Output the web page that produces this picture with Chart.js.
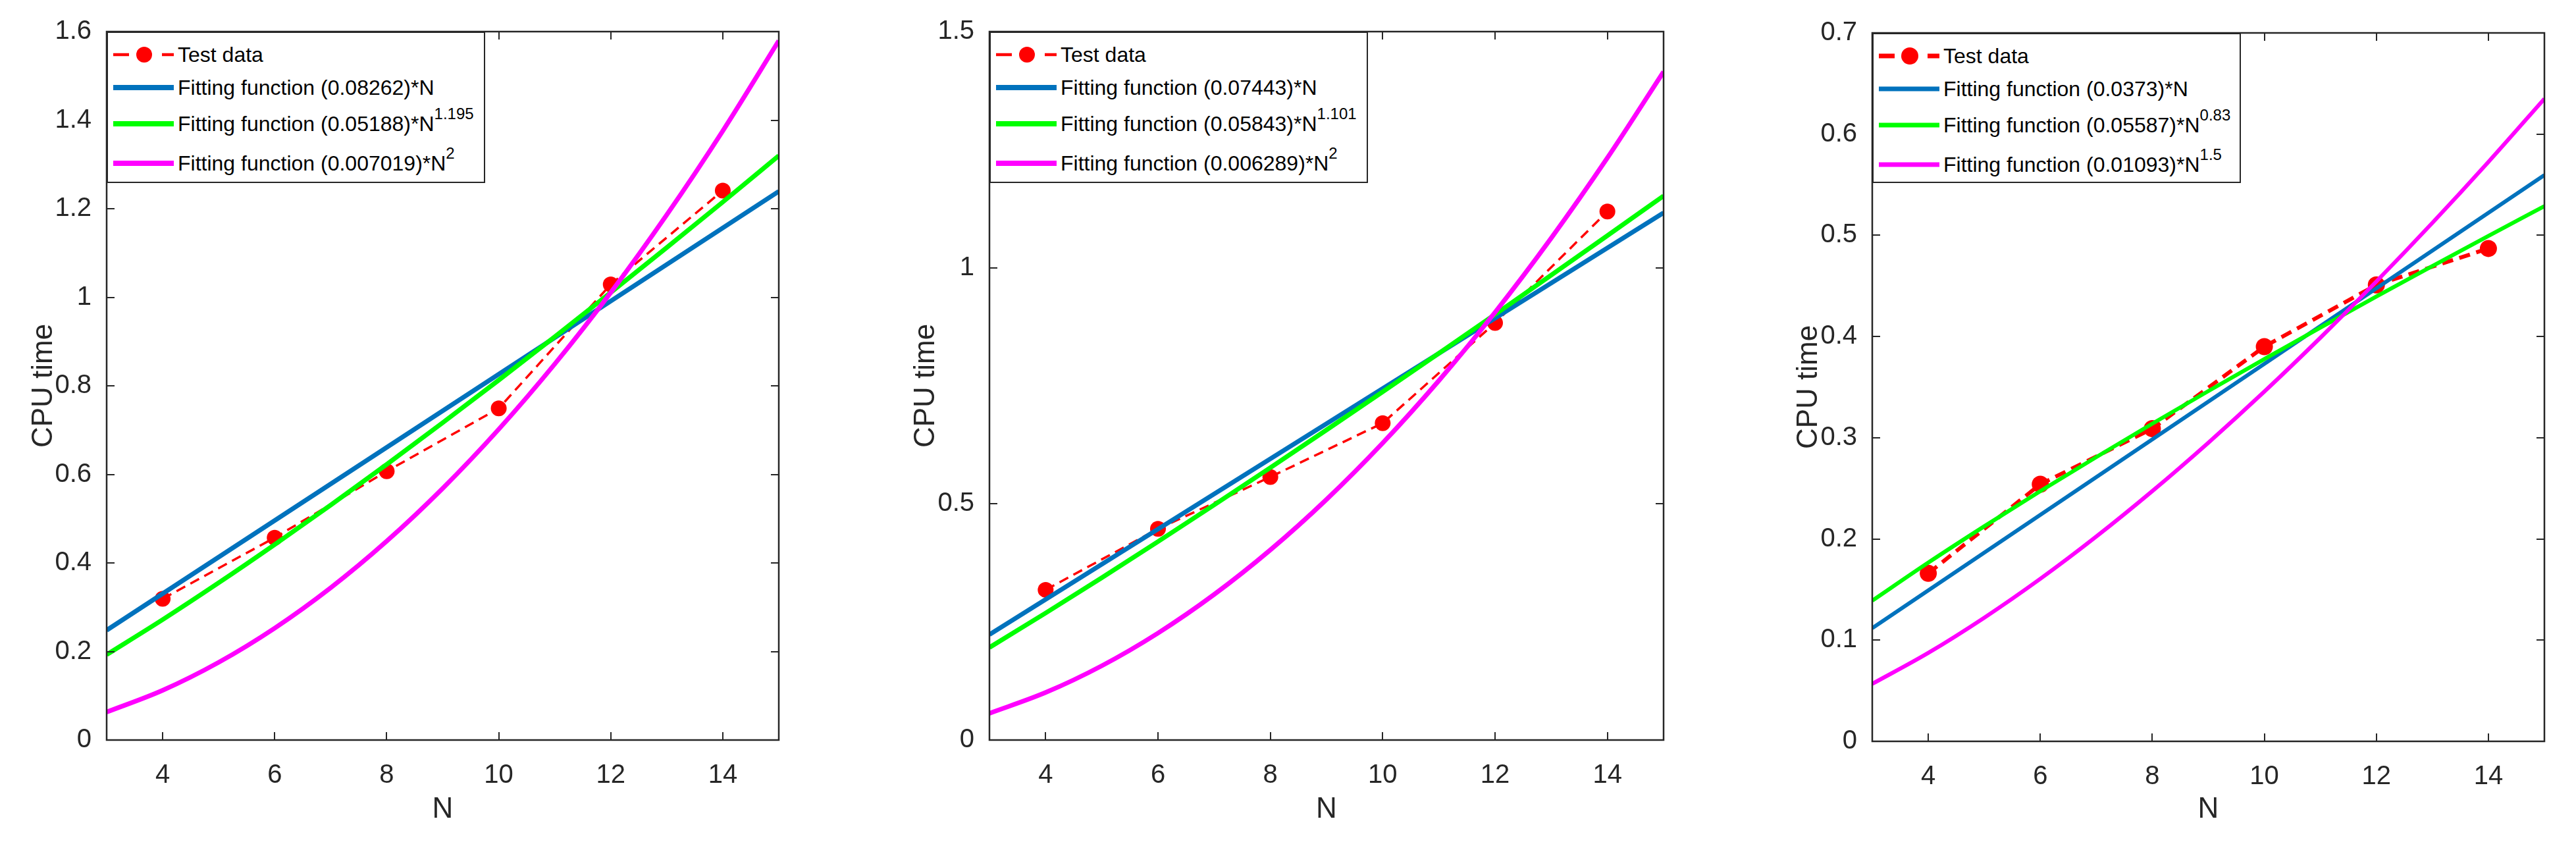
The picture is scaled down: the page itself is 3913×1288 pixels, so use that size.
<!DOCTYPE html>
<html>
<head>
<meta charset="utf-8">
<script src="https://cdn.jsdelivr.net/npm/chart.js@4.4.1/dist/chart.umd.min.js"></script>
<style>
  body { margin: 0; background: #fff; width: 3913px; height: 1288px; position: relative; overflow: hidden;
         font-family: 'Liberation Sans', Arial, sans-serif; }
  .panel { position: absolute; top: 0; height: 1288px; }
  .legend { position: absolute; background: #fff; border: 2px solid #262626; box-sizing: border-box;
            font-size: 32px; color: #000; padding-top: 8px; }
  .row { position: relative; }
  .row svg { position: absolute; left: 8px; top: 50%; transform: translateY(-50%); }
  .row span { position: absolute; left: 106px; top: 50%; transform: translateY(-50%); white-space: nowrap; line-height: 1; }
  .row sup { font-size: 24px; vertical-align: 18px; line-height: 0; }
</style>
</head>
<body>
<div class="panel" id="p1" style="left:0;width:1220px"><canvas id="c1"></canvas></div>
<div class="panel" id="p2" style="left:1300px;width:1260px"><canvas id="c2"></canvas></div>
<div class="panel" id="p3" style="left:2640px;width:1273px"><canvas id="c3"></canvas></div>

<script>
// shared x values
const testN = [4, 6, 8, 10, 12, 14];
const curveN = [3, 4, 5, 6, 7, 8, 9, 10, 11, 12, 13, 14, 15];
const lineN = [3, 15];
const xTicks = [4, 6, 8, 10, 12, 14];

// panel 1
const test1 = [0.319, 0.457, 0.607, 0.749, 1.029, 1.241];
const blue1 = [0.2479, 1.2393];
const green1 = [0.1928, 0.2719, 0.3551, 0.4415, 0.5308, 0.6226, 0.7167, 0.8128, 0.9109, 1.0107, 1.1122, 1.2151, 1.3197];
const magenta1 = [0.0632, 0.1123, 0.1755, 0.2527, 0.3439, 0.4492, 0.5685, 0.7019, 0.8493, 1.0107, 1.1862, 1.3757, 1.5793];
const yTicks1 = [0, 0.2, 0.4, 0.6, 0.8, 1, 1.2, 1.4, 1.6];
const labels1 = ['Test data', 'Fitting function (0.08262)*N', 'Fitting function (0.05188)*N', 'Fitting function (0.007019)*N'];
const sups1 = ['', '', '1.195', '2'];

// panel 2
const test2 = [0.318, 0.447, 0.557, 0.671, 0.883, 1.119];
const blue2 = [0.2233, 1.1165];
const green2 = [0.1959, 0.2689, 0.3437, 0.4201, 0.4979, 0.5767, 0.6566, 0.7373, 0.8189, 0.9012, 0.9843, 1.0679, 1.1522];
const magenta2 = [0.0566, 0.1006, 0.1572, 0.2264, 0.3082, 0.4025, 0.5094, 0.6289, 0.7610, 0.9056, 1.0628, 1.2326, 1.4150];
const yTicks2 = [0, 0.5, 1, 1.5];
const labels2 = ['Test data', 'Fitting function (0.07443)*N', 'Fitting function (0.05843)*N', 'Fitting function (0.006289)*N'];
const sups2 = ['', '', '1.101', '2'];

// panel 3
const test3 = [0.166, 0.254, 0.309, 0.390, 0.451, 0.487];
const blue3 = [0.1119, 0.5595];
const green3 = [0.1390, 0.1766, 0.2125, 0.2472, 0.2809, 0.3139, 0.3461, 0.3777, 0.4088, 0.4395, 0.4696, 0.4994, 0.5288];
const magenta3 = [0.0568, 0.0874, 0.1222, 0.1606, 0.2024, 0.2473, 0.2951, 0.3456, 0.3988, 0.4544, 0.5123, 0.5725, 0.6350];
const yTicks3 = [0, 0.1, 0.2, 0.3, 0.4, 0.5, 0.6, 0.7];
const labels3 = ['Test data', 'Fitting function (0.0373)*N', 'Fitting function (0.05587)*N', 'Fitting function (0.01093)*N'];
const sups3 = ['', '', '0.83', '1.5'];

const RED = '#ff0000', BLUE = '#0072bd', GREEN = '#00ff00', MAGENTA = '#ff00ff', AXIS = '#262626';

Chart.defaults.font.family = "'Liberation Sans', Arial, sans-serif";
Chart.defaults.color = AXIS;

const pts = (xs, ys) => xs.map((x, i) => ({ x: x, y: ys[i] }));

// box round the axes and inward ticks on all four sides, like matlab
const axesBox = {
  id: 'axesBox',
  afterDatasetsDraw(chart) {
    const { ctx, chartArea: a, scales } = chart;
    ctx.save();
    ctx.strokeStyle = AXIS;
    ctx.lineWidth = 2;
    ctx.beginPath();
    scales.x.ticks.forEach(t => {
      const px = Math.round(scales.x.getPixelForValue(t.value));
      ctx.moveTo(px, a.bottom); ctx.lineTo(px, a.bottom - 12);
      ctx.moveTo(px, a.top); ctx.lineTo(px, a.top + 12);
    });
    scales.y.ticks.forEach(t => {
      const py = Math.round(scales.y.getPixelForValue(t.value));
      ctx.moveTo(a.left, py); ctx.lineTo(a.left + 12, py);
      ctx.moveTo(a.right, py); ctx.lineTo(a.right - 12, py);
    });
    ctx.stroke();
    ctx.lineWidth = 2.5;
    ctx.strokeRect(a.left, a.top, a.right - a.left, a.bottom - a.top);
    ctx.restore();
  }
};

const panels = [
  { canvas: 'c1', test: test1, blue: blue1, green: green1, magenta: magenta1, yTicks: yTicks1, yMax: 1.6,
    labels: labels1, sups: sups1, yAxisW: 162, xAxisH: 164, padTop: 48, padRight: 37, yTitlePad: 40,
    legend: { left: 162, top: 48, width: 575, height: 230 }, lw: 7, redW: 3.5, dotR: 12, dash: [15, 9] },
  { canvas: 'c2', test: test2, blue: blue2, green: green2, magenta: magenta2, yTicks: yTicks2, yMax: 1.5,
    labels: labels2, sups: sups2, yAxisW: 203, xAxisH: 164, padTop: 48, padRight: 33, yTitlePad: 80,
    legend: { left: 1503, top: 48, width: 575, height: 230 }, lw: 7, redW: 3.5, dotR: 12, dash: [15, 9] },
  { canvas: 'c3', test: test3, blue: blue3, green: green3, magenta: magenta3, yTicks: yTicks3, yMax: 0.7,
    labels: labels3, sups: sups3, yAxisW: 204, xAxisH: 162, padTop: 50, padRight: 48, yTitlePad: 81,
    legend: { left: 2844, top: 50, width: 560, height: 228 }, lw: 6, redW: 6, dotR: 13, dash: [17, 10] }
];

function makeChart(p) {
  new Chart(document.getElementById(p.canvas), {
    type: 'line',
    data: {
      datasets: [
        { label: p.labels[0], data: pts(testN, p.test), borderColor: RED, backgroundColor: RED,
          borderWidth: p.redW, borderDash: p.dash, pointRadius: p.dotR, pointBorderWidth: 0,
          pointBackgroundColor: RED, order: 4 },
        { label: p.labels[1], data: pts(lineN, p.blue), borderColor: BLUE, borderWidth: p.lw, pointRadius: 0, order: 3 },
        { label: p.labels[2], data: pts(curveN, p.green), borderColor: GREEN, borderWidth: p.lw, pointRadius: 0,
          cubicInterpolationMode: 'monotone', order: 2 },
        { label: p.labels[3], data: pts(curveN, p.magenta), borderColor: MAGENTA, borderWidth: p.lw, pointRadius: 0,
          cubicInterpolationMode: 'monotone', order: 1 }
      ]
    },
    options: {
      responsive: true,
      maintainAspectRatio: false,
      animation: false,
      layout: { padding: { top: p.padTop, right: p.padRight, bottom: 0, left: 0 } },
      plugins: { legend: { display: false }, tooltip: { enabled: false } },
      scales: {
        x: {
          type: 'linear', min: 3, max: 15,
          grid: { display: false }, border: { display: false },
          afterBuildTicks: s => { s.ticks = xTicks.map(v => ({ value: v })); },
          afterFit: s => { s.height = p.xAxisH; },
          ticks: { font: { size: 40 }, padding: 22, autoSkip: false, maxRotation: 0, callback: v => String(v) },
          title: { display: true, text: 'N', font: { size: 44 }, padding: { top: 32, bottom: 32 } }
        },
        y: {
          type: 'linear', min: 0, max: p.yMax,
          grid: { display: false }, border: { display: false },
          afterBuildTicks: s => { s.ticks = p.yTicks.map(v => ({ value: v })); },
          afterFit: s => { s.width = p.yAxisW; },
          ticks: { font: { size: 40 }, padding: 15, autoSkip: false, callback: v => String(v) },
          title: { display: true, text: 'CPU time', font: { size: 44 }, padding: { top: p.yTitlePad, bottom: p.yTitlePad } }
        }
      }
    },
    plugins: [axesBox]
  });
}

function makeLegend(p) {
  const box = document.createElement('div');
  box.className = 'legend';
  box.style.left = p.legend.left + 'px';
  box.style.top = p.legend.top + 'px';
  box.style.width = p.legend.width + 'px';
  box.style.height = p.legend.height + 'px';
  const colors = [RED, BLUE, GREEN, MAGENTA];
  const rowH = [50, 50, 60, 60];
  p.labels.forEach((txt, i) => {
    const row = document.createElement('div');
    row.className = 'row';
    row.style.height = rowH[i] + 'px';
    let sample;
    if (i === 0) {
      sample = `<svg width="92" height="30">
        <line x1="0" y1="15" x2="24" y2="15" stroke="${RED}" stroke-width="${p.redW + 1}"/>
        <circle cx="47" cy="15" r="${p.dotR}" fill="${RED}"/>
        <line x1="74" y1="15" x2="92" y2="15" stroke="${RED}" stroke-width="${p.redW + 1}"/></svg>`;
    } else {
      sample = `<svg width="92" height="30"><line x1="0" y1="15" x2="92" y2="15" stroke="${colors[i]}" stroke-width="${p.lw + 1}"/></svg>`;
    }
    const sup = p.sups[i] ? `<sup>${p.sups[i]}</sup>` : '';
    row.innerHTML = sample + `<span>${txt}${sup}</span>`;
    box.appendChild(row);
  });
  document.body.appendChild(box);
}

panels.forEach(p => { makeChart(p); makeLegend(p); });
</script>
</body>
</html>
